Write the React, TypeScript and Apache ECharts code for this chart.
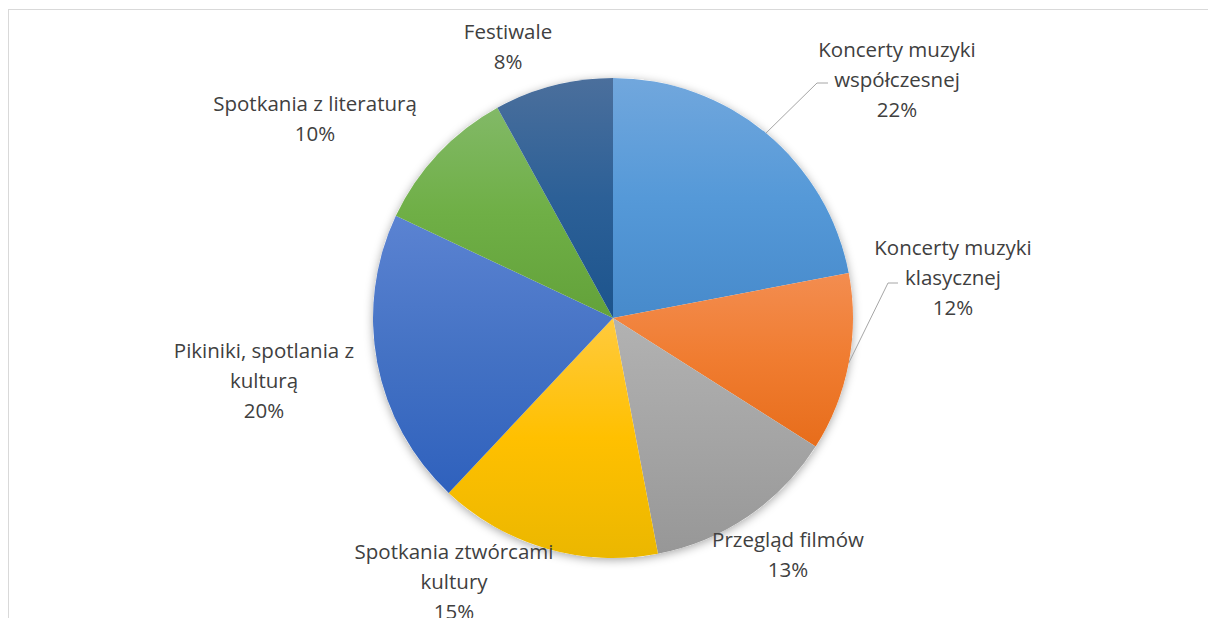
import React, { useEffect, useRef } from 'react';
import * as echarts from 'echarts';

// ---- data ----
const CATEGORIES = [
  'Koncerty muzyki współczesnej',
  'Koncerty muzyki klasycznej',
  'Przegląd filmów',
  'Spotkania ztwórcami kultury',
  'Pikiniki, spotlania z kulturą',
  'Spotkania z literaturą',
  'Festiwale',
];
const VALUES = [22, 12, 13, 15, 20, 10, 8];
// label text as wrapped in the picture
const LABEL_TEXT = [
  'Koncerty muzyki\nwspółczesnej',
  'Koncerty muzyki\nklasycznej',
  'Przegląd filmów',
  'Spotkania ztwórcami\nkultury',
  'Pikiniki, spotlania z\nkulturą',
  'Spotkania z literaturą',
  'Festiwale',
];

// ---- styles / layout ----
const GRADIENTS = [
  ['#71a7dd', '#5599d8', '#478acb'],
  ['#f38d50', '#f07c30', '#e76d1b'],
  ['#b2b2b2', '#a5a5a5', '#979797'],
  ['#ffca3e', '#ffc000', '#ebb700'],
  ['#5b83d2', '#4472c4', '#2f61bd'],
  ['#82b967', '#6faf46', '#63a23a'],
  ['#4b6f9c', '#2c6097', '#1c548d'],
];
const CENTER = [613, 318];
const RADIUS = 240;
// label block centres
const LABEL_POS = [
  [897, 79],
  [953, 277],
  [788, 554],
  [454, 581],
  [264, 380],
  [315, 118],
  [508, 46],
];
// leader elbow / end offsets from label centre: [elbowDx, dy, endDx]
const LEADER: (number[] | null)[] = [
  [-80, 4, -69],
  [-65, 6, -55],
  null,
  null,
  null,
  null,
  null,
];
const FONT = '"Open Sans", sans-serif';

export default function App() {
  const ref = useRef<HTMLDivElement>(null);
  useEffect(() => {
    const chart = echarts.init(ref.current!, null, { renderer: 'svg' });
    const data = CATEGORIES.map((name, i) => ({
      name,
      value: VALUES[i],
      itemStyle: {
        color: new echarts.graphic.LinearGradient(0, 0, 0, 1, [
          { offset: 0, color: GRADIENTS[i][0] },
          { offset: 0.5, color: GRADIENTS[i][1] },
          { offset: 1, color: GRADIENTS[i][2] },
        ]),
      },
      labelLine: { show: LEADER[i] != null },
    }));
    chart.setOption({
      animation: false,
      series: [
        {
          type: 'pie',
          silent: true,
          center: CENTER,
          radius: RADIUS,
          z: 1,
          label: { show: false },
          labelLine: { show: false },
          data: [
            {
              value: 1,
              itemStyle: {
                color: '#ffffff',
                shadowBlur: 10,
                shadowOffsetY: 2,
                shadowColor: 'rgba(0,0,0,0.35)',
              },
            },
          ],
        },
        {
          type: 'pie',
          center: CENTER,
          radius: RADIUS,
          startAngle: 90,
          clockwise: true,
          avoidLabelOverlap: false,
          z: 2,
          data,
          label: {
            show: true,
            position: 'outside',
            formatter: (p: any) => LABEL_TEXT[p.dataIndex] + '\n' + p.value + '%',
            fontFamily: FONT,
            fontSize: 20.5,
            lineHeight: 30,
            color: '#404040',
            align: 'center',
          },
          labelLine: {
            length: 10,
            length2: 10,
            lineStyle: { color: '#a6a6a6', width: 1 },
          },
          labelLayout: (p: any) => {
            const i = p.dataIndex;
            const [x, y] = LABEL_POS[i];
            const res: any = { x, y, align: 'center', verticalAlign: 'middle' };
            const ld = LEADER[i];
            if (ld && p.labelLinePoints) {
              const start = p.labelLinePoints[0];
              res.labelLinePoints = [
                [start[0], start[1]],
                [x + ld[0], y + ld[1]],
                [x + ld[2], y + ld[1]],
              ];
            }
            return res;
          },
        },
      ],
    });
    return () => chart.dispose();
  }, []);
  return (
    <div style={{ position: 'fixed', left: 0, top: 0, width: 1208, height: 618, overflow: 'hidden', background: '#fff' }}>
      <div
        style={{
          position: 'absolute',
          left: 8,
          top: 9,
          width: 1400,
          height: 800,
          borderLeft: '1px solid #d9d9d9',
          borderTop: '1px solid #d9d9d9',
        }}
      />
      <div ref={ref} style={{ position: 'absolute', left: 0, top: 0, width: 1208, height: 618 }} />
    </div>
  );
}
